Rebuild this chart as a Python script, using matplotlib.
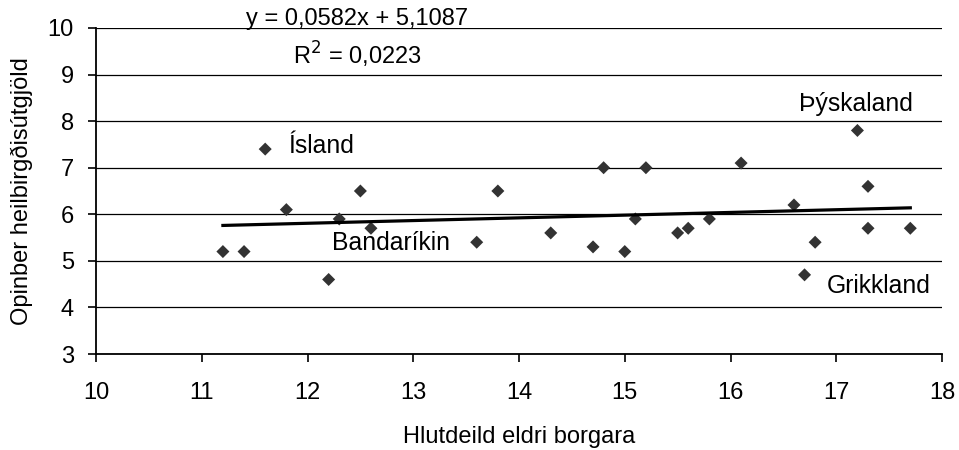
import numpy as np
import matplotlib
matplotlib.use('Agg')
import matplotlib.pyplot as plt

plt.rcParams['font.family'] = ['Liberation Sans', 'DejaVu Sans']

# Share of elderly (x) vs public health expenditure (y)
elderly_share = [11.2, 11.4, 11.6, 11.8, 12.2, 12.3, 12.5, 12.6, 13.6, 13.8,
                 14.3, 14.7, 14.8, 15.0, 15.1, 15.2, 15.5, 15.6, 15.8, 16.1,
                 16.6, 16.7, 16.8, 17.2, 17.3, 17.3, 17.7]
health_spend = [5.2, 5.2, 7.4, 6.1, 4.6, 5.9, 6.5, 5.7, 5.4, 6.5,
                5.6, 5.3, 7.0, 5.2, 5.9, 7.0, 5.6, 5.7, 5.9, 7.1,
                6.2, 4.7, 5.4, 7.8, 6.6, 5.7, 5.7]

trend_slope = 0.0582
trend_intercept = 5.1087
trend_label = 'y = 0,0582x + 5,1087'
r2_label = 'R$^2$ = 0,0223'

x_ticks = [10, 11, 12, 13, 14, 15, 16, 17, 18]
y_ticks = [3, 4, 5, 6, 7, 8, 9, 10]

fig = plt.figure(figsize=(9.59, 4.5), dpi=100)
ax = fig.add_axes([0.1001, 0.2133, 0.8822, 0.7245])

ax.scatter(elderly_share, health_spend, marker='D', s=44, color='#333333',
           edgecolors='none', zorder=3)

x_line = np.array([min(elderly_share), max(elderly_share)])
ax.plot(x_line, trend_slope * x_line + trend_intercept, color='black', lw=2.3, zorder=4)

ax.set_xlim(10, 18)
ax.set_ylim(3, 10)
ax.set_xticks(x_ticks)
ax.set_yticks(y_ticks)
ax.grid(True, axis='y', color='black', lw=0.9)
ax.set_axisbelow(True)
for s in ['top', 'right']:
    ax.spines[s].set_visible(False)
for s in ['left', 'bottom']:
    ax.spines[s].set_linewidth(1.3)
ax.tick_params(axis='both', direction='out', length=6, width=1.2, labelsize=17)
ax.tick_params(axis='x', pad=14)
ax.tick_params(axis='y', pad=10)

ax.set_xlabel('Hlutdeild eldri borgara', fontsize=17)
ax.xaxis.set_label_coords(0.5, -0.222)
ax.set_ylabel('Opinber heilbirgðisútgjöld', fontsize=17)
ax.yaxis.set_label_coords(-0.0745, 0.5)

# country labels
ax.text(11.82, 7.47, 'Ísland', fontsize=17.8, va='center')
ax.text(12.23, 5.38, 'Bandaríkin', fontsize=17.8, va='center')
ax.text(16.65, 8.37, 'Þýskaland', fontsize=17.8, va='center')
ax.text(16.91, 4.46, 'Grikkland', fontsize=17.8, va='center')

# trendline equation
ax.text(12.47, 10.2, trend_label, fontsize=17, ha='center', va='center', clip_on=False)
ax.text(12.47, 9.42, r2_label, fontsize=17, ha='center', va='center')

fig.savefig('out.png', dpi=100)
